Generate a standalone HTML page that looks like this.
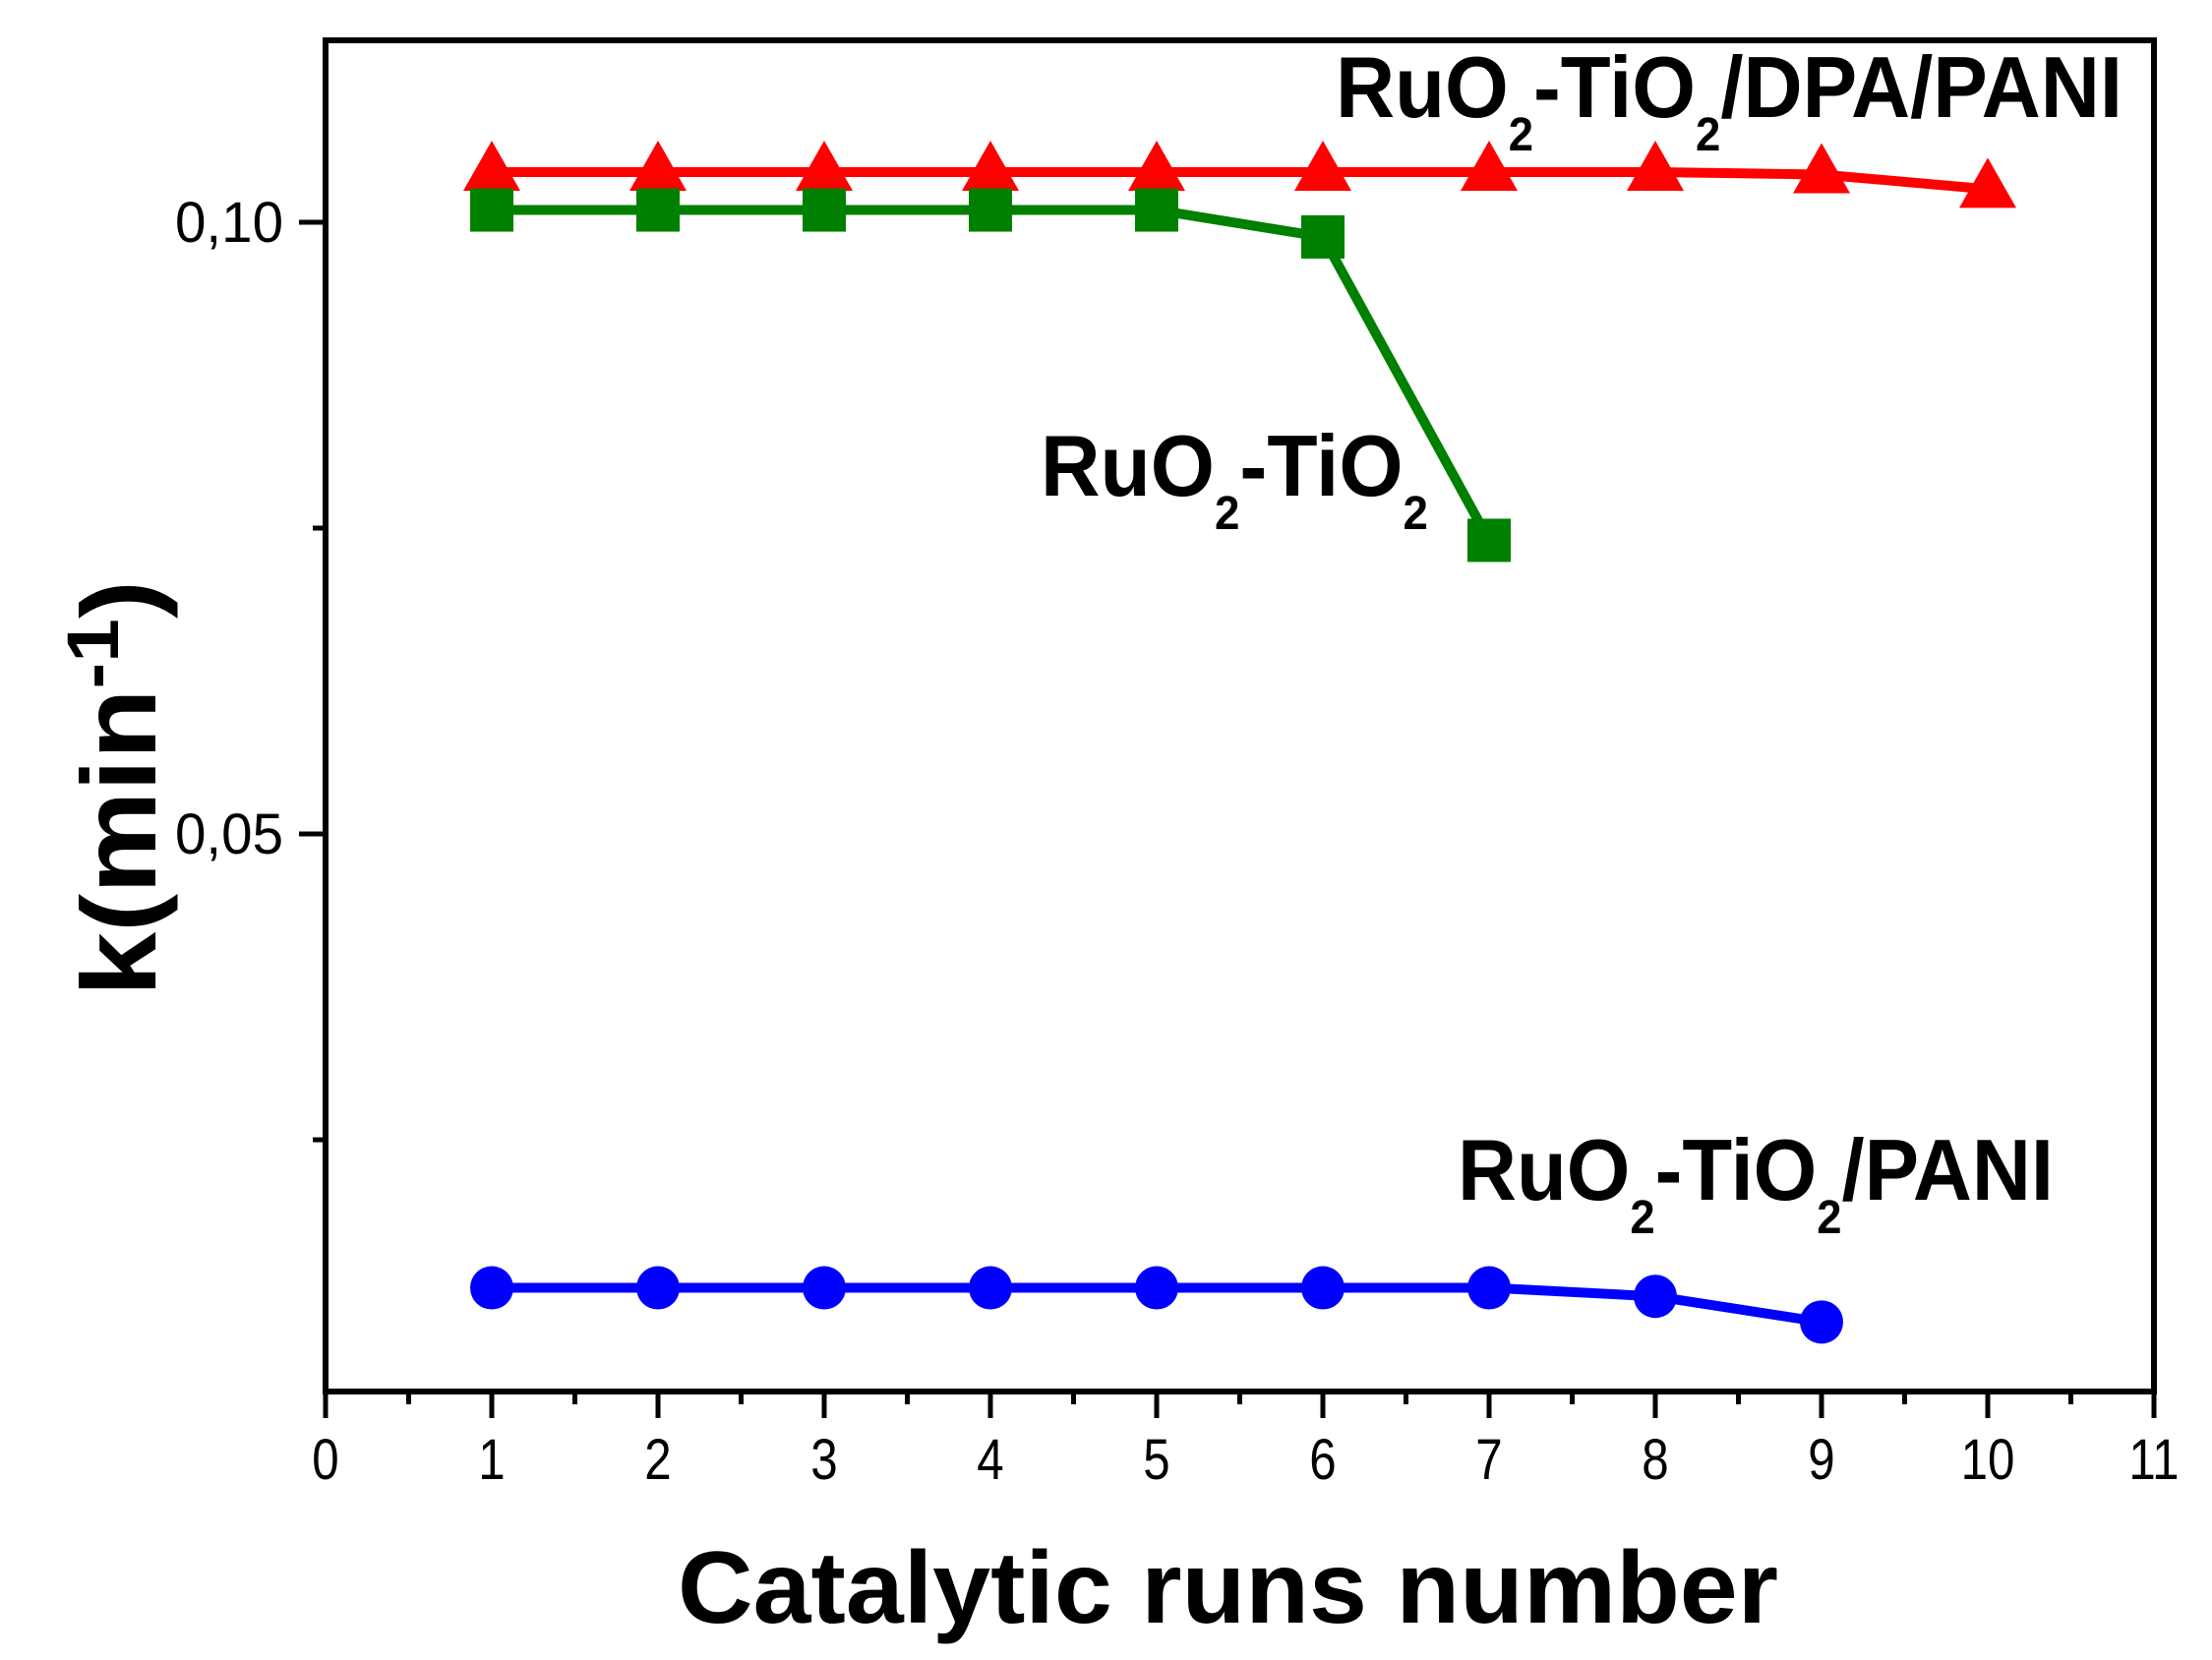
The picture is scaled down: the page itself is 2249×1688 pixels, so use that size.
<!DOCTYPE html>
<html><head><meta charset="utf-8"><style>html,body{margin:0;padding:0;background:#fff}svg{display:block}</style></head>
<body>
<svg id="chart" width="2249" height="1688" viewBox="0 0 2249 1688" xmlns="http://www.w3.org/2000/svg" font-family="Liberation Sans, sans-serif">
<g id="marks"></g>
<g id="axes"></g>
<text x="1358" y="119" font-size="88" font-weight="bold" textLength="800" lengthAdjust="spacingAndGlyphs">RuO<tspan dy="34" font-size="48">2</tspan><tspan dy="-34">-TiO</tspan><tspan dy="34" font-size="48">2</tspan><tspan dy="-34">/DPA/PANI</tspan></text>
<text x="1058" y="504" font-size="88" font-weight="bold" textLength="394" lengthAdjust="spacingAndGlyphs">RuO<tspan dy="34" font-size="48">2</tspan><tspan dy="-34">-TiO</tspan><tspan dy="34" font-size="48">2</tspan></text>
<text x="1482" y="1220" font-size="88" font-weight="bold" textLength="606" lengthAdjust="spacingAndGlyphs">RuO<tspan dy="34" font-size="48">2</tspan><tspan dy="-34">-TiO</tspan><tspan dy="34" font-size="48">2</tspan><tspan dy="-34">/PANI</tspan></text>
<text x="689" y="1650" font-size="104" font-weight="bold" textLength="1119" lengthAdjust="spacingAndGlyphs">Catalytic runs number</text>
<text transform="translate(158,1013) rotate(-90)" x="0" y="0" font-size="108" font-weight="bold" textLength="423" lengthAdjust="spacingAndGlyphs">k(min<tspan dy="-38" font-size="74">-1</tspan><tspan dy="38">)</tspan></text>
</svg>
<script>
const runs = [1,2,3,4,5,6,7,8,9,10];
const dpaPani = [0.1041,0.1041,0.1041,0.1041,0.1041,0.1041,0.1041,0.1041,0.1039,0.1027];
const ruo2Tio2 = [0.1010,0.1010,0.1010,0.1010,0.1010,0.0988,0.0740];
const pani = [0.0129,0.0129,0.0129,0.0129,0.0129,0.0129,0.0129,0.0122,0.0101];
const xTicks = [0,1,2,3,4,5,6,7,8,9,10,11];
const yTicks = [0.05,0.10];
const yTickLabels = ["0,05","0,10"];
const yMinor = [0.025,0.075];

const X0=331, X1=2190, Y0=1415, Y1=41;
const xMin=0, xMax=11, yMin=0.05-(1415-848)/12440, yMax=0.1+(226-41)/12440;
const xs = v => X0 + (v-xMin)/(xMax-xMin)*(X1-X0);
const ys = v => Y0 - (v-yMin)/(yMax-yMin)*(Y0-Y1);
const NS="http://www.w3.org/2000/svg";
const marks=document.getElementById('marks'), axes=document.getElementById('axes');
function mk(tag, attrs, parent){const e=document.createElementNS(NS,tag);for(const k in attrs)e.setAttribute(k,attrs[k]);parent.appendChild(e);return e;}

function series(vals, color, shape, name){
  const pts = vals.map((v,i)=>[xs(runs[i]), ys(v)]);
  const line = mk('polyline',{points:pts.map(p=>p.join(',')).join(' '),fill:'none',stroke:color,'stroke-width':10,'stroke-linejoin':'round'},marks);
  
  
  pts.forEach((p,i)=>{
    let m;
    if(shape==='tri') m=mk('polygon',{points:`${p[0]},${p[1]-32} ${p[0]-29},${p[1]+19} ${p[0]+29},${p[1]+19}`,fill:color},marks);
    else if(shape==='sq') m=mk('rect',{x:p[0]-22,y:p[1]-22,width:44,height:44,fill:color},marks);
    else m=mk('circle',{cx:p[0],cy:p[1],r:22,fill:color},marks);
    
    
  });
}
series(dpaPani,'#ff0000','tri','dpa-pani');
series(ruo2Tio2,'#008000','sq','ruo2-tio2');
series(pani,'#0000ff','circ','pani');

const frame = mk('rect',{x:X0,y:Y1,width:X1-X0,height:Y0-Y1,fill:'none',stroke:'#000','stroke-width':6},axes);


xTicks.forEach(t=>{
  const x=xs(t);
  mk('line',{x1:x,y1:Y0,x2:x,y2:Y0+27,stroke:'#000','stroke-width':5},axes);
  if(t<xMax) mk('line',{x1:xs(t+0.5),y1:Y0,x2:xs(t+0.5),y2:Y0+13,stroke:'#000','stroke-width':5},axes);
  const lb=mk('text',{y:1504,'font-size':58,'text-anchor':'middle',transform:`translate(${x*0.15},0) scale(0.85,1)`},axes);
  lb.setAttribute('x', x/0.85 - x*0.15/0.85);
  lb.textContent=t;
  
  
});
yTicks.forEach((t,i)=>{
  const y=ys(t);
  mk('line',{x1:X0-27,y1:y,x2:X0,y2:y,stroke:'#000','stroke-width':5},axes);
  const lb=mk('text',{x:288,y:y+20,'font-size':58,'text-anchor':'end',textLength:110,lengthAdjust:'spacingAndGlyphs'},axes);
  lb.textContent=yTickLabels[i];
  
  
});
yMinor.forEach(t=>{
  const y=ys(t);
  mk('line',{x1:X0-13,y1:y,x2:X0,y2:y,stroke:'#000','stroke-width':5},axes);
});
</script>
</body></html>
